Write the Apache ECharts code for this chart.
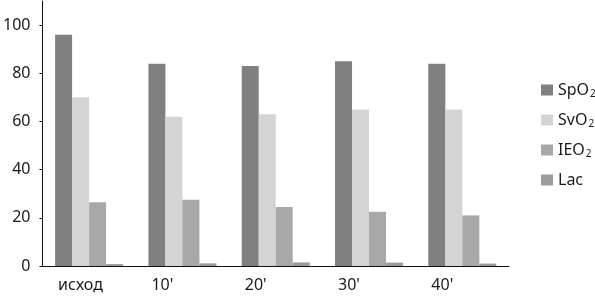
<!DOCTYPE html>
<html><head><meta charset="utf-8">
<script src="https://cdn.jsdelivr.net/npm/echarts@6/dist/echarts.min.js"></script>
<style>html,body{margin:0;padding:0;background:#fff}#c{width:595px;height:296px}</style>
</head><body><div id="c"></div>
<script>
var categories = ["исход", "10'", "20'", "30'", "40'"];
var spo2 = [96, 84, 83, 85, 84];
var svo2 = [70, 62, 63, 65, 65];
var ieo2 = [26.5, 27.5, 24.5, 22.5, 21];
var lac = [0.8, 1.1, 1.5, 1.4, 1.0];
var yTicks = [0, 20, 40, 60, 80, 100];
var seriesNames = ["SpO2", "SvO2", "IEO2", "Lac"];
var colors = ["#808080", "#d4d4d4", "#a8a8a8", "#9b9b9b"];

var font = "'Noto Sans', sans-serif";
var chart = echarts.init(document.getElementById('c'), null, {renderer: 'canvas'});
function mk(name, data, color) {
  return {name: name, type: 'bar', data: data, barWidth: 17, barGap: '0%',
    itemStyle: {color: color}, animation: false};
}
chart.setOption({
  animation: false,
  grid: {left: 42, right: 86, top: 1, bottom: 30, containLabel: false},
  legend: {
    orient: 'vertical', left: 536, top: 76, itemWidth: 12, itemHeight: 11,
    itemGap: 12, icon: 'rect',
    data: seriesNames,
    formatter: function (n) { return n.replace(/2$/, '{s|2}'); },
    textStyle: {fontFamily: font, fontSize: 16, color: '#1a1a1a', height: 18, lineHeight: 18,
      rich: {s: {fontFamily: font, fontSize: 10, color: '#1a1a1a', verticalAlign: 'bottom', padding: [15, 0, 0, 1]}}}
  },
  xAxis: {
    type: 'category', data: categories,
    axisLine: {lineStyle: {color: '#111', width: 1}},
    axisTick: {show: false},
    axisLabel: {fontFamily: font, fontSize: 16, color: '#1a1a1a', margin: 11, align: 'left', padding: [0, 0, 0, -31]}
  },
  yAxis: {
    type: 'value', min: 0, max: 110, interval: 20,
    splitLine: {show: false},
    axisLine: {show: true, lineStyle: {color: '#111', width: 1}},
    axisTick: {show: true, length: 3, customValues: yTicks, lineStyle: {color: '#111'}},
    axisLabel: {fontFamily: font, fontSize: 16, color: '#1a1a1a', margin: 12, customValues: yTicks}
  },
  series: [mk(seriesNames[0], spo2, colors[0]), mk(seriesNames[1], svo2, colors[1]),
           mk(seriesNames[2], ieo2, colors[2]), mk(seriesNames[3], lac, colors[3])]
});
</script></body></html>
